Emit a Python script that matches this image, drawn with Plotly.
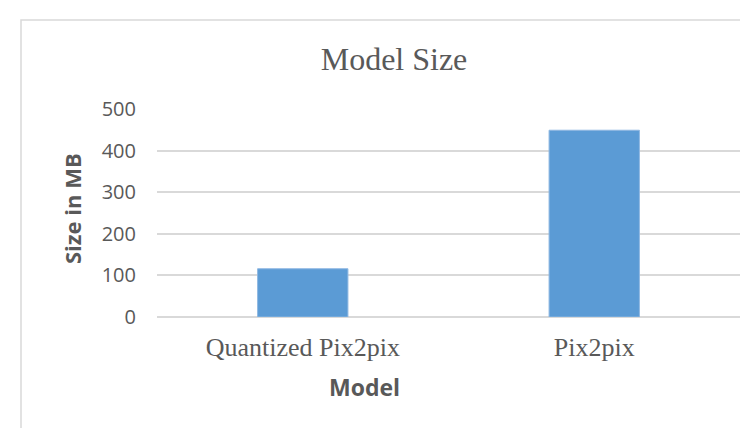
import plotly.graph_objects as go

categories = ["Quantized Pix2pix", "Pix2pix"]
sizes_mb = [116, 449]
y_ticks = [0, 100, 200, 300, 400, 500]

W, H = 748, 428
L, R, T, B = 149, 16, 101, 119
pw, ph = W - L - R, H - T - B

def px(x):
    return (x - L) / pw

def py(y):
    return (H - B - y) / ph

fig = go.Figure()
fig.add_trace(go.Bar(
    x=categories, y=sizes_mb,
    marker=dict(color="#5b9bd5", line=dict(color="#8fb8e2", width=1)),
    width=0.31,
))

grey = "#595959"
fig.update_layout(
    width=W, height=H,
    margin=dict(l=L, r=R, t=T, b=B),
    paper_bgcolor="white", plot_bgcolor="white",
    showlegend=False,
    title=dict(text="Model Size", x=px(386), xanchor="center", xref="paper",
               y=1 - 51 / H, yanchor="middle", yref="container",
               font=dict(family="Liberation Serif", size=32, color=grey)),
    xaxis=dict(
        showgrid=False, showline=False, zeroline=False,
        ticks="", ticklabelstandoff=12,
        tickfont=dict(family="Liberation Serif", size=26, color=grey),
    ),
    yaxis=dict(
        range=[0, 500], tickvals=y_ticks,
        showgrid=True, gridcolor="#d9d9d9", gridwidth=1.5,
        zeroline=True, zerolinecolor="#d9d9d9", zerolinewidth=1.5,
        showline=False, ticks="", ticklabelstandoff=20,
        tickfont=dict(family="Open Sans", size=20, color=grey),
    ),
    annotations=[
        dict(text="<b>Size in MB</b>", textangle=-90, showarrow=False,
             xref="paper", yref="paper", x=px(64), y=py(201),
             xanchor="center", yanchor="middle",
             font=dict(family="Open Sans", size=22, color=grey)),
        dict(text="<b>Model</b>", showarrow=False,
             xref="paper", yref="paper", x=px(356), y=py(379),
             xanchor="center", yanchor="middle",
             font=dict(family="Open Sans", size=23, color=grey)),
    ],
    shapes=[
        dict(type="rect", xref="paper", yref="paper",
             x0=px(13), x1=px(755), y0=py(435), y1=py(12),
             line=dict(color="#d9d9d9", width=1.5), layer="below"),
    ],
)

fig.write_html("out.html")
